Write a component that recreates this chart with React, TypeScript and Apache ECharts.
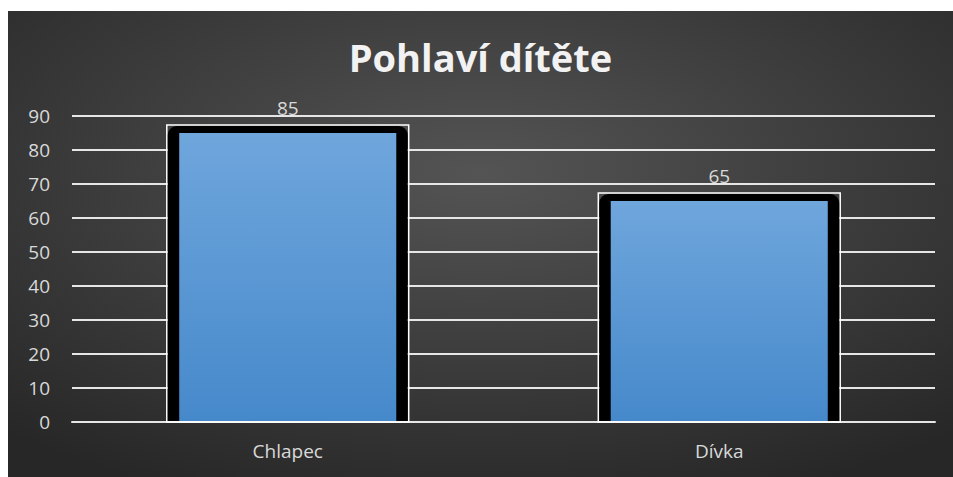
import React, { useEffect, useRef } from "react";
import * as echarts from "echarts";

const titleText = "Pohlaví dítěte";
const categories = ["Chlapec", "Dívka"];
const values = [85, 65];
const yMin = 0;
const yMax = 90;
const yStep = 10;

export default function App() {
  const ref = useRef<HTMLDivElement>(null);
  useEffect(() => {
    if (!ref.current) return;
    const chart = echarts.init(ref.current, null, { renderer: "svg" });
    const font = "'Open Sans', Lato, sans-serif";
    chart.setOption({
      animation: false,
      backgroundColor: new echarts.graphic.RadialGradient(0.5, 0.35, 0.75, [
        { offset: 0, color: "#545454" },
        { offset: 1, color: "#272727" },
      ]),
      title: {
        text: titleText,
        left: "center",
        top: 22,
        textStyle: {
          color: "#f2f2f2",
          fontFamily: font,
          fontWeight: "bold",
          fontSize: 38,
        },
      },
      grid: { left: 64, right: 18, top: 105, bottom: 55 },
      xAxis: {
        type: "category",
        data: categories,
        axisLine: { show: true, lineStyle: { color: "#e6e6e6", width: 2 } },
        axisTick: { show: false },
        axisLabel: { color: "#d9d9d9", fontSize: 19, fontFamily: font, margin: 19 },
      },
      yAxis: {
        type: "value",
        min: yMin,
        max: yMax,
        interval: yStep,
        axisLine: { show: false },
        axisTick: { show: false },
        axisLabel: { color: "#d9d9d9", fontSize: 19, fontFamily: font, margin: 22 },
        splitLine: { lineStyle: { color: "#e6e6e6", width: 2 } },
      },
      series: [
        {
          type: "custom",
          data: values.map((v, i) => [i, v]),
          encode: { x: 0, y: 1 },
          renderItem: (params: any, api: any) => {
            const idx = api.value(0);
            const v = api.value(1);
            const top = api.coord([idx, v]);
            const base = api.coord([idx, 0]);
            const band = api.size([1, 0])[0];
            const fw = band * 0.503;
            const ow = band * 0.556;
            const cx = top[0];
            const h = base[1] - top[1];
            return {
              type: "group",
              children: [
                {
                  type: "rect",
                  shape: { x: cx - ow / 2 - 1, y: top[1] - 8, width: ow + 2, height: h + 8 },
                  style: { fill: "none", stroke: "#ffffff", lineWidth: 1.5 },
                },
                {
                  type: "rect",
                  shape: { x: cx - ow / 2, y: top[1] - 7, width: ow, height: h + 6, r: [9, 9, 0, 0] },
                  style: { fill: "#000000" },
                },
                {
                  type: "rect",
                  shape: { x: cx - fw / 2, y: top[1], width: fw, height: h - 1 },
                  style: {
                    fill: new echarts.graphic.LinearGradient(0, 0, 0, 1, [
                      { offset: 0, color: "#6fa6dc" },
                      { offset: 1, color: "#4689cb" },
                    ]),
                  },
                },
                {
                  type: "text",
                  x: cx,
                  y: top[1] - 25,
                  style: {
                    text: String(v),
                    fill: "#d9d9d9",
                    font: `19px ${font}`,
                    align: "center",
                    verticalAlign: "middle",
                  },
                },
              ],
            };
          },
        },
      ],
    });
    return () => chart.dispose();
  }, []);
  return (
    <div
      ref={ref}
      style={{ position: "absolute", left: 8, top: 11, width: 945, height: 466 }}
    />
  );
}
